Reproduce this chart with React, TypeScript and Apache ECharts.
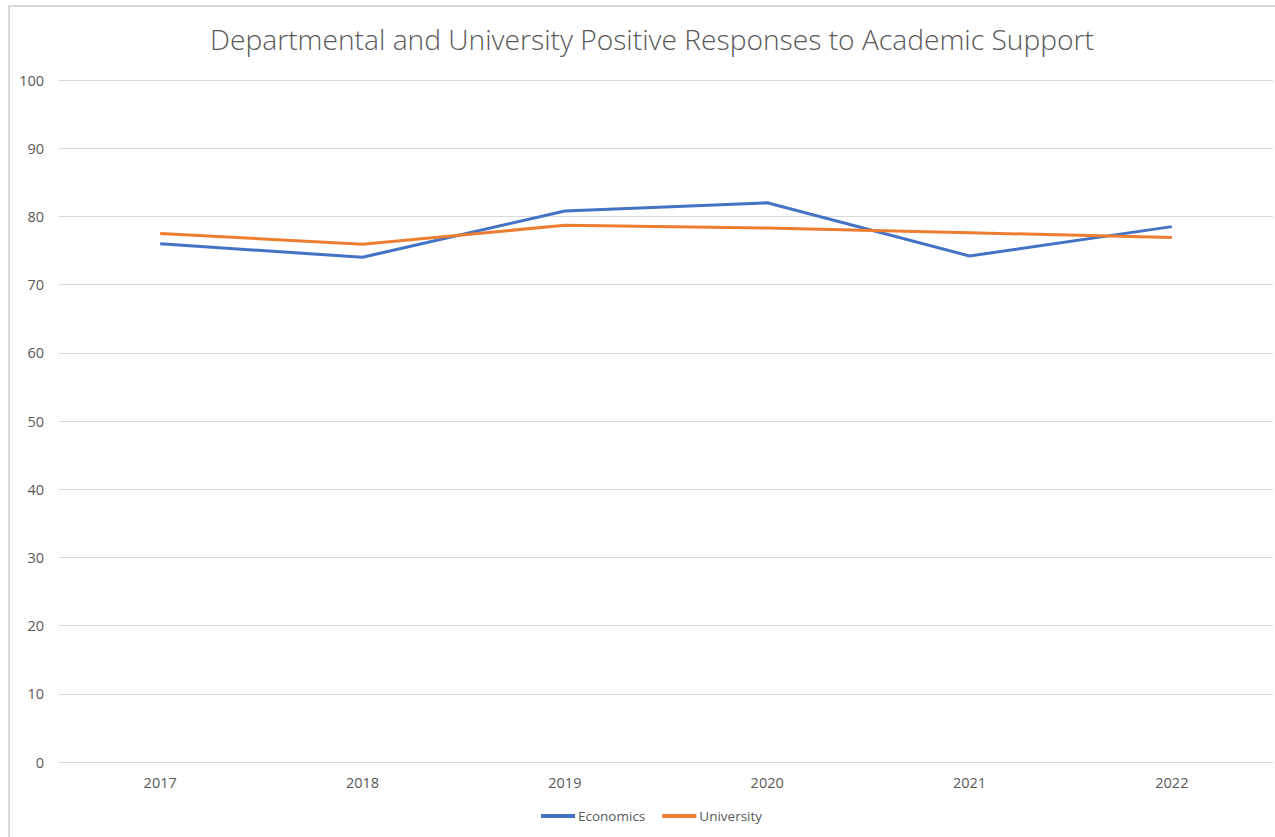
import React, { useEffect, useRef } from "react";
import * as echarts from "echarts";

const years = ["2017", "2018", "2019", "2020", "2021", "2022"];
const economics = [76.0, 74.0, 80.8, 82.0, 74.2, 78.5];
const university = [77.5, 75.9, 78.7, 78.3, 77.6, 76.9];
const yTicks = { min: 0, max: 100, interval: 10 };

export default function App() {
  const ref = useRef<HTMLDivElement>(null);
  useEffect(() => {
    if (!ref.current) return;
    const chart = echarts.init(ref.current, undefined, { renderer: "svg" });
    const font = "'Open Sans', 'Noto Sans', sans-serif";
    chart.setOption({
      animation: false,
      backgroundColor: "#ffffff",
      title: {
        text: "Departmental and University Positive Responses to Academic Support",
        left: 647,
        textAlign: "center",
        top: 20,
        textStyle: { fontFamily: font, fontSize: 28.2, fontWeight: 300, color: "#595959" },
      },
      grid: { left: 59, right: 2, top: 80, bottom: 75, containLabel: false },
      legend: {
        bottom: 9,
        left: 536,
        itemWidth: 34,
        itemHeight: 4,
        itemGap: 17,
        icon: "rect",
        textStyle: { fontFamily: font, fontSize: 13.5, color: "#595959", padding: [0, 0, 0, -2] },
        data: ["Economics", "University"],
      },
      xAxis: {
        type: "category",
        data: years,
        boundaryGap: true,
        axisLine: { show: true, lineStyle: { color: "#d9d9d9", width: 1 } },
        axisTick: { show: false },
        axisLabel: { fontFamily: font, fontSize: 14.5, color: "#595959", margin: 13 },
      },
      yAxis: {
        type: "value",
        min: yTicks.min,
        max: yTicks.max,
        interval: yTicks.interval,
        axisLine: { show: false },
        axisTick: { show: false },
        splitLine: { lineStyle: { color: "#d9d9d9", width: 1 } },
        axisLabel: { fontFamily: font, fontSize: 14.5, color: "#595959", margin: 15 },
      },
      series: [
        {
          name: "Economics",
          type: "line",
          data: economics,
          showSymbol: false,
          symbol: "none",
          lineStyle: { color: "#4472C4", width: 3 },
          itemStyle: { color: "#4472C4" },
        },
        {
          name: "University",
          type: "line",
          data: university,
          showSymbol: false,
          symbol: "none",
          lineStyle: { color: "#ED7D31", width: 3 },
          itemStyle: { color: "#ED7D31" },
        },
      ],
    });
    return () => chart.dispose();
  }, []);
  return (
    <div style={{ position: "fixed", left: 0, top: 0, width: 1275, height: 837, overflow: "hidden", background: "#fff" }}>
      <div ref={ref} style={{ position: "absolute", left: 0, top: 0, width: 1275, height: 837 }} />
      <div
        style={{
          position: "absolute",
          left: 8,
          top: 5,
          width: 1320,
          height: 900,
          border: "2px solid #d9d9d9",
          boxSizing: "border-box",
          pointerEvents: "none",
        }}
      />
    </div>
  );
}
